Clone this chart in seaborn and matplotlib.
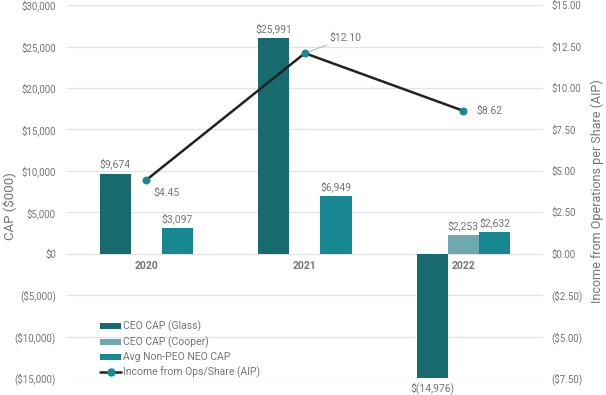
import numpy as np
import pandas as pd
import seaborn as sns
import matplotlib.pyplot as plt
from matplotlib.patches import Patch
from matplotlib.lines import Line2D

years = ['2020', '2021', '2022']
series = ['CEO CAP (Glass)', 'CEO CAP (Cooper)', 'Avg Non-PEO NEO CAP']
glass = [9674, 25991, -14976]
cooper = [np.nan, np.nan, 2253]
avg_neo = [3097, 6949, 2632]
income_ops = [4.45, 12.10, 8.62]
line_label = 'Income from Ops/Share (AIP)'

colors = ['#176b6e', '#6ea9b0', '#178891']
grey = '#757575'


def money(v):
    return f'${v:,.0f}' if v >= 0 else f'$({-v:,.0f})'


def money_axis(v, decimals):
    s = f'${abs(v):,.{decimals}f}'
    return s if v >= 0 else f'({s})'


sns.set_theme(style='white')
plt.rcParams['font.family'] = ['Roboto', 'DejaVu Sans']

df = pd.DataFrame({
    'Year': years * 3,
    'Series': [s for s in series for _ in years],
    'Value': glass + cooper + avg_neo,
})

fig = plt.figure(figsize=(6.06, 3.95), dpi=100)
ax = fig.add_axes([0.1106, 0.043, 0.785, 0.944])

sns.barplot(data=df, x='Year', y='Value', hue='Series', hue_order=series,
            palette=colors, width=0.59, dodge=True, ax=ax, legend=False,
            saturation=1, edgecolor='none')

ax.set_ylim(-15000, 30000)
ax.set_xlim(-0.5, 2.5)
ax.set_yticks(np.arange(-15000, 30001, 5000))
ax.set_yticklabels([money_axis(v, 0) for v in np.arange(-15000, 30001, 5000)])
ax.grid(axis='y', color='#e3e3e3', linewidth=0.9)
ax.set_axisbelow(True)
ax.set_xticks([])
ax.set_xlabel('')
ax.set_ylabel('CAP ($000)', color=grey, fontsize=9.5)
ax.yaxis.set_label_coords(-0.107, 0.461)
ax.tick_params(axis='y', colors=grey, labelsize=7, length=0, pad=8)
sns.despine(ax=ax, left=True, bottom=True)

# category labels sit just under the zero line
for i, yr in enumerate(years):
    ax.annotate(yr, (i, 0), xytext=(0, -5), textcoords='offset points',
                ha='center', va='top', fontsize=7.5, fontweight='bold', color=grey)

# bar value labels
for bar in ax.patches:
    h = bar.get_height()
    if np.isnan(h) or bar.get_width() == 0:
        continue
    x = bar.get_x() + bar.get_width() / 2
    off = 3 if h >= 0 else -3
    ax.annotate(money(h), (x, h), xytext=(0, off), textcoords='offset points',
                ha='center', va='bottom' if h >= 0 else 'top', fontsize=7.5, color=grey)

ax2 = ax.twinx()
sns.lineplot(x=[0, 1, 2], y=income_ops, ax=ax2, color='#222222', linewidth=1.8,
             marker='o', markersize=5, markerfacecolor='#178891',
             markeredgecolor='#178891', legend=False)
ax2.set_ylim(-7.5, 15)
ax2.set_yticks(np.arange(-7.5, 15.01, 2.5))
ax2.set_yticklabels([money_axis(v, 2) for v in np.arange(-7.5, 15.01, 2.5)])
ax2.tick_params(axis='y', colors=grey, labelsize=7, length=0, pad=6)
ax2.set_ylabel('Income from Operations per Share (AIP)', color=grey, fontsize=9,
               labelpad=6)
ax2.grid(False)
sns.despine(ax=ax2, left=True, bottom=True, right=True)

ax2.annotate('$4.45', (0, income_ops[0]), xytext=(5, -9), textcoords='offset points',
             ha='left', va='center', fontsize=7.5, color=grey)
ax2.annotate('$12.10', (1, income_ops[1]), xytext=(18, 11), textcoords='offset points',
             ha='left', va='center', fontsize=7.5, color=grey,
             arrowprops=dict(arrowstyle='-', color='#aaaaaa', lw=0.6, shrinkA=0, shrinkB=3))
ax2.annotate('$8.62', (2, income_ops[2]), xytext=(9, 0), textcoords='offset points',
             ha='left', va='center', fontsize=7.5, color=grey)

handles = [Patch(facecolor=c, edgecolor='none') for c in colors]
handles.append(Line2D([0], [0], color='#222222', lw=1.8, marker='o', markersize=5,
                      markerfacecolor='#178891', markeredgecolor='#178891'))
ax2.legend(handles, series + [line_label], loc='upper left',
           bbox_to_anchor=(0.07, 0.153), frameon=False, fontsize=7.5,
           labelcolor=grey, handlelength=2.0, handleheight=0.55,
           handletextpad=0.2, labelspacing=0.4, borderpad=0, borderaxespad=0)

fig.savefig('out.png', dpi=100)
